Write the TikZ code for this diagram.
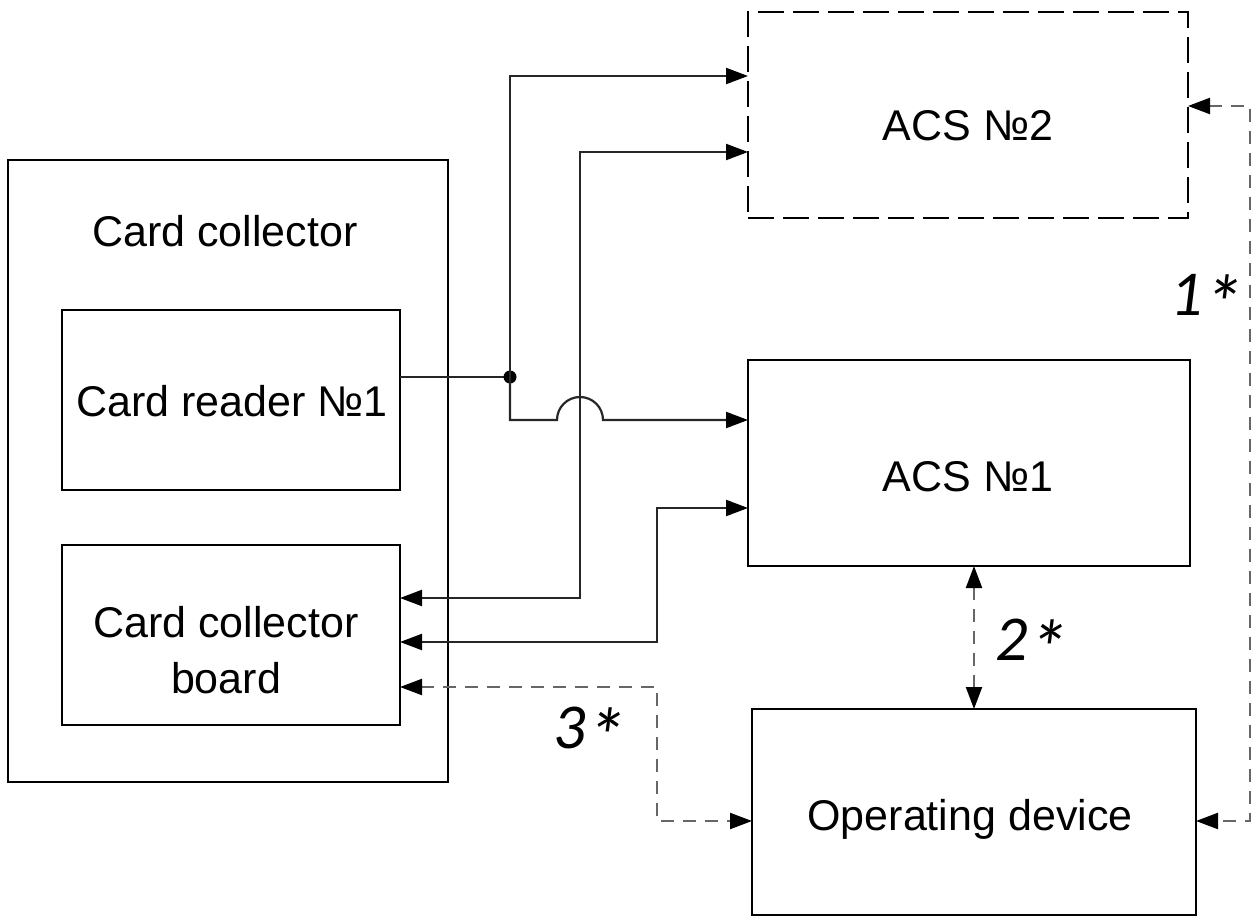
\documentclass[tikz,border=0pt]{standalone}
\usepackage{fontspec}
\setmainfont{Liberation Sans}
\newfontfamily\labfont{Carlito}
\usetikzlibrary{arrows.meta}
\newcommand{\bigast}{\raisebox{-0.25em}{\scalebox{1.25}{*}}}
\tikzset{
  box/.style={draw=black, line width=2.6pt, inner sep=0pt, outer sep=0pt, fill=none},
  dbox/.style={box, dash pattern=on 26pt off 9pt},
  txt/.style={font=\fontsize{43}{50}\selectfont, align=center, inner sep=0pt},
  lab/.style={font=\labfont\itshape\fontsize{64}{64}\selectfont, inner sep=0pt, anchor=base},
  conn/.style={draw=black!85, line width=2.2pt},
  dconn/.style={draw=black!60, line width=2.2pt, dash pattern=on 13pt off 9pt},
  tip/.style={-{Triangle[length=22pt,width=16pt,color=black]}},
  tips/.style={{Triangle[length=22pt,width=16pt,color=black]}-{Triangle[length=22pt,width=16pt,color=black]}},
}
\begin{document}
\begin{tikzpicture}[x=1pt,y=-1pt]
\useasboundingbox (0,0) rectangle (1254,917);
% boxes
\node[box, minimum width=440pt, minimum height=622pt] (cc) at (228,471) {};
\node[box, minimum width=338pt, minimum height=180pt] (cr) at (231,400) {};
\node[box, minimum width=338pt, minimum height=180pt] (cb) at (231,635) {};
\node[dbox, minimum width=440pt, minimum height=206pt] (acs2) at (968,115) {};
\node[box, minimum width=442pt, minimum height=206pt] (acs1) at (969,463) {};
\node[box, minimum width=444pt, minimum height=206pt] (op) at (974,812) {};
% texts
\node[txt] (tcc) at (225,231) {Card collector};
\node[txt] (tcr) at (232,401) {Card reader №1};
\node[txt] (tcb) at (226,650) {Card collector\\[6pt]board};
\node[txt] (ta2) at (968,126) {ACS №2};
\node[txt] (ta1) at (968,477) {ACS №1};
\node[txt] (top) at (970,819) {Operating device};
% labels (base anchored)
\node[lab] (l1) at (1207,316) {1\bigast};
\node[lab] (l2) at (1032,660) {2\bigast};
\node[lab] (l3) at (590,748) {3\bigast};
% junction
\coordinate (j) at (510,377);
\draw[conn] (cr.east |- j) -- (j);
\fill[black] (j) circle (6.5pt);
\draw[conn, tip] (j) |- (acs2.west |- 0,76);
\draw[conn, tip] (j) -- (510,420) -- (557,420) arc[start angle=180, end angle=360, radius=23] -- (acs1.west |- 0,420);
% card collector board <-> ACS
\draw[conn, tips] (cb.east |- 0,598) -| (580,152) -- (acs2.west |- 0,152);
\draw[conn, tips] (cb.east |- 0,642) -| (657,508) -- (acs1.west |- 0,508);
% dashed links
\draw[dconn, tips] (cb.east |- 0,687) -| (657,821) -- (op.west |- 0,821);
\draw[dconn, tips] (acs1.south -| 974,0) -- (op.north);
\draw[dconn, tips] (acs2.east |- 0,106) -| (1250,821) -- (op.east |- 0,821);
\end{tikzpicture}
\end{document}
